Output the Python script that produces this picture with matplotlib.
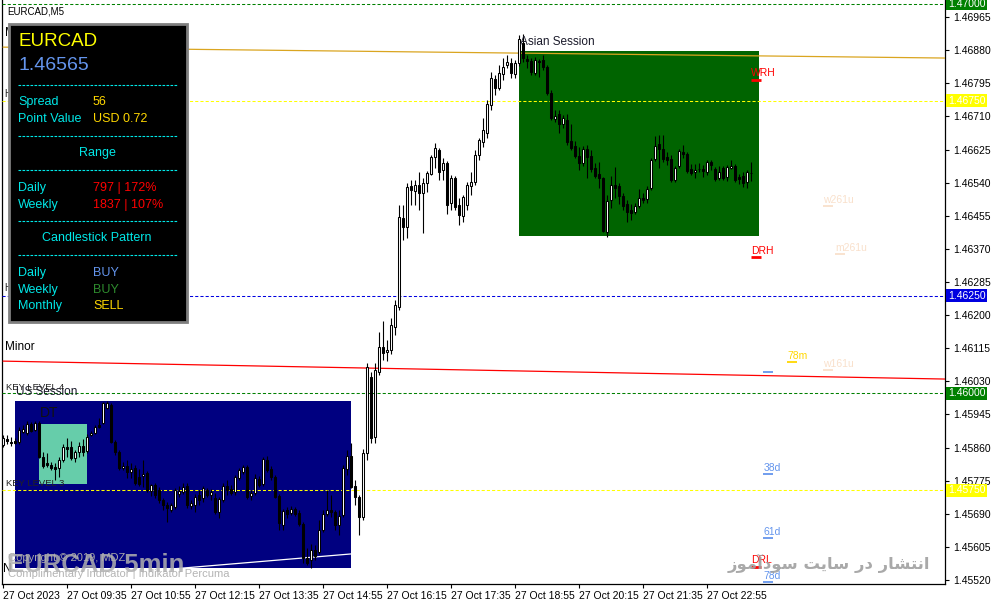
import numpy as np
import matplotlib
matplotlib.use("Agg")
import matplotlib.pyplot as plt
from matplotlib.patches import Rectangle

plt.rcParams['font.family'] = ['Liberation Sans', 'DejaVu Sans']

# EURCAD M5 candles, prices in points (1 point = 0.00001)
opens_pts = [
    145867, 145882, 145875, 145877, 145875, 145900, 145897, 145921, 145905, 145923,
    145836, 145820, 145815, 145810, 145807, 145828, 145862, 145862, 145833, 145849,
    145865, 145851, 145892, 145897, 145918, 145923, 145961, 145969, 145875, 145849,
    145807, 145813, 145798, 145807, 145785, 145787, 145795, 145749, 145764, 145751,
    145726, 145713, 145700, 145708, 145741, 145746, 145762, 145710, 145713, 145738,
    145731, 145751, 145738, 145731, 145695, 145726, 145762, 145754, 145746, 145782,
    145798, 145810, 145736, 145743, 145779, 145767, 145828, 145805, 145785, 145736,
    145662, 145700, 145692, 145703, 145692, 145664, 145577, 145571, 145597, 145592,
    145649, 145690, 145700, 145695, 145662, 145687, 145805, 145839, 145762, 145733,
    145682, 145846, 146041, 145887, 146054, 146118, 146106, 146111, 146170, 146221,
    146449, 146426, 146532, 146519, 146534, 146514, 146539, 146562, 146606, 146624,
    146573, 146591, 146488, 146552, 146483, 146455, 146483, 146532, 146542, 146611,
    146645, 146668, 146739, 146806, 146783, 146819, 146842, 146847, 146819, 146847,
    146899, 146858, 146852, 146822, 146852, 146855, 146837, 146770, 146704, 146716,
    146691, 146701, 146647, 146634, 146608, 146590, 146626, 146608, 146578, 146562,
    146552, 146413, 146496, 146534, 146532, 146506, 146485, 146470, 146465, 146480,
    146501, 146498, 146526, 146601, 146639, 146626, 146606, 146601, 146547, 146583,
    146619, 146614, 146575, 146568, 146575, 146575, 146568, 146593, 146575, 146552,
    146578, 146555, 146578, 146583, 146555, 146557, 146542, 146565,
]
highs_pts = [
    145892, 145892, 145887, 145884, 145913, 145918, 145928, 145926, 145928, 145928,
    145849, 145846, 145823, 145820, 145836, 145870, 145884, 145877, 145854, 145875,
    145882, 145895, 145903, 145918, 145936, 145977, 145979, 145974, 145880, 145854,
    145823, 145828, 145820, 145815, 145805, 145828, 145800, 145767, 145769, 145759,
    145731, 145721, 145718, 145756, 145761, 145769, 145769, 145726, 145741, 145751,
    145762, 145756, 145754, 145743, 145733, 145769, 145777, 145764, 145790, 145807,
    145815, 145815, 145751, 145792, 145787, 145836, 145839, 145813, 145790, 145741,
    145703, 145708, 145710, 145708, 145700, 145669, 145602, 145613, 145610, 145674,
    145700, 145751, 145738, 145700, 145700, 145815, 145854, 145872, 145777, 145738,
    145857, 146077, 146054, 146077, 146157, 146185, 146136, 146193, 146239, 146483,
    146483, 146539, 146547, 146547, 146568, 146552, 146570, 146611, 146642, 146629,
    146603, 146596, 146560, 146557, 146501, 146508, 146542, 146568, 146624, 146655,
    146706, 146752, 146824, 146816, 146842, 146860, 146868, 146860, 146855, 146919,
    146922, 146868, 146860, 146863, 146858, 146868, 146842, 146778, 146727, 146727,
    146714, 146716, 146691, 146647, 146632, 146634, 146637, 146624, 146591, 146593,
    146555, 146508, 146557, 146580, 146539, 146514, 146496, 146485, 146488, 146524,
    146514, 146532, 146603, 146660, 146662, 146662, 146619, 146611, 146583, 146626,
    146637, 146619, 146588, 146588, 146590, 146585, 146598, 146598, 146580, 146583,
    146583, 146585, 146598, 146588, 146562, 146568, 146573, 146593,
]
lows_pts = [
    145862, 145870, 145865, 145870, 145870, 145897, 145892, 145900, 145903, 145833,
    145807, 145810, 145803, 145777, 145785, 145823, 145836, 145828, 145823, 145836,
    145839, 145846, 145890, 145895, 145910, 145921, 145959, 145872, 145841, 145803,
    145803, 145782, 145782, 145764, 145762, 145759, 145746, 145736, 145731, 145718,
    145700, 145669, 145695, 145703, 145733, 145741, 145705, 145703, 145695, 145713,
    145721, 145733, 145726, 145690, 145680, 145721, 145738, 145738, 145738, 145777,
    145792, 145728, 145726, 145738, 145759, 145762, 145798, 145777, 145731, 145649,
    145649, 145680, 145687, 145685, 145659, 145564, 145559, 145551, 145571, 145587,
    145644, 145685, 145682, 145649, 145636, 145682, 145790, 145756, 145713, 145636,
    145674, 145828, 145872, 145872, 146046, 146085, 146082, 146100, 146149, 146213,
    146393, 146398, 146483, 146483, 146470, 146411, 146516, 146560, 146578, 146547,
    146547, 146460, 146470, 146470, 146431, 146439, 146470, 146508, 146534, 146598,
    146632, 146655, 146727, 146765, 146778, 146804, 146834, 146809, 146809, 146839,
    146850, 146834, 146816, 146816, 146811, 146829, 146765, 146701, 146696, 146668,
    146680, 146637, 146624, 146603, 146573, 146583, 146552, 146567, 146552, 146526,
    146413, 146401, 146475, 146501, 146485, 146470, 146439, 146444, 146460, 146475,
    146488, 146488, 146521, 146596, 146578, 146593, 146585, 146542, 146542, 146578,
    146603, 146565, 146560, 146552, 146568, 146555, 146560, 146573, 146544, 146547,
    146547, 146544, 146575, 146542, 146537, 146529, 146526, 146544,
]
closes_pts = [
    145884, 145877, 145872, 145872, 145905, 145908, 145921, 145903, 145923, 145836,
    145813, 145815, 145807, 145805, 145828, 145862, 145857, 145833, 145849, 145865,
    145849, 145887, 145897, 145913, 145913, 145974, 145974, 145875, 145849, 145807,
    145813, 145798, 145805, 145769, 145767, 145792, 145751, 145764, 145738, 145726,
    145713, 145705, 145713, 145751, 145749, 145759, 145713, 145718, 145733, 145726,
    145756, 145738, 145746, 145695, 145728, 145762, 145751, 145743, 145785, 145803,
    145810, 145733, 145743, 145782, 145764, 145831, 145803, 145785, 145733, 145667,
    145697, 145690, 145703, 145690, 145664, 145577, 145564, 145597, 145582, 145649,
    145690, 145700, 145695, 145662, 145685, 145807, 145839, 145759, 145733, 145682,
    145846, 146067, 145884, 146059, 146118, 146103, 146111, 146175, 146226, 146452,
    146426, 146529, 146521, 146534, 146514, 146539, 146565, 146606, 146629, 146568,
    146591, 146483, 146552, 146478, 146457, 146503, 146534, 146542, 146611, 146650,
    146675, 146742, 146809, 146783, 146822, 146837, 146850, 146822, 146847, 146909,
    146860, 146852, 146824, 146855, 146850, 146837, 146770, 146706, 146711, 146691,
    146706, 146645, 146629, 146608, 146590, 146626, 146606, 146575, 146557, 146552,
    146416, 146493, 146534, 146526, 146506, 146480, 146465, 146462, 146480, 146501,
    146496, 146524, 146598, 146634, 146626, 146601, 146598, 146547, 146578, 146621,
    146614, 146570, 146565, 146573, 146575, 146570, 146593, 146585, 146550, 146568,
    146552, 146580, 146583, 146547, 146550, 146539, 146568, 146565,
]

time_label_bars = [0, 16, 32, 48, 64, 80, 96, 112, 128, 144, 160, 176]
time_labels = ['27 Oct 2023', '27 Oct 09:35', '27 Oct 10:55', '27 Oct 12:15',
               '27 Oct 13:35', '27 Oct 14:55', '27 Oct 16:15', '27 Oct 17:35',
               '27 Oct 18:55', '27 Oct 20:15', '27 Oct 21:35', '27 Oct 22:55']
price_ticks = [1.46965, 1.46880, 1.46795, 1.46710, 1.46625, 1.46540, 1.46455,
               1.46370, 1.46285, 1.46200, 1.46115, 1.46030, 1.45945, 1.45860,
               1.45775, 1.45690, 1.45605, 1.45520]

# horizontal key levels (dashed) with their colours
key_levels = [1.47000, 1.46750, 1.46250, 1.46000, 1.45750]
key_colors = ['#008000', '#FFFF00', '#0000E0', '#008000', '#FFFF00']

# sessions / zones: start bar, end bar, high, low
us_session = (2.9, 86.9, 1.45980, 1.45551)
asia_session = (128.9, 188.9, 1.46878, 1.46403)
dt_zone = (8.9, 20.9, 1.45921, 1.45767)

# trend lines: bar0, price0, bar1, price1
major_line = (0, 1.46888, 235.4, 1.46860)
minor_line = (0, 1.46082, 235.4, 1.46036)
session_line = (30, 1.45538, 86.9, 1.45587)

# level tags on the right
tag_names = ['WRH', 'DRH', 'w261u', 'm261u', '78m', 'w161u', '', '38d', '61d', 'DRL', '78d']
tag_bars = [187, 187, 205, 208, 196, 205, 190, 190, 190, 187, 190]
tag_prices = [1.46804, 1.46349, 1.46480, 1.46357, 1.46080, 1.46059, 1.46054,
              1.45792, 1.45628, 1.45554, 1.45515]
tag_colors = ['#FF0000', '#FF0000', '#F9E0CB', '#F9E0CB', '#FFD700', '#F9E0CB',
              '#6495ED', '#6495ED', '#6495ED', '#FF0000', '#6495ED']

opens = np.array(opens_pts) / 1e5
closes = np.array(closes_pts) / 1e5
highs = np.maximum.reduce([np.array(highs_pts) / 1e5, opens, closes])
lows = np.minimum.reduce([np.array(lows_pts) / 1e5, opens, closes])
bars = np.arange(len(closes))

fig = plt.figure(figsize=(9.91, 6.05), dpi=100)
fig.patch.set_facecolor('white')
ax = fig.add_axes([2 / 991, 21 / 605, 943 / 991, 584 / 605])
ax.set_xlim(-0.325, 235.425)
ax.set_ylim(1.455099, 1.470090)
ax.set_facecolor('white')

# session boxes
for (b0, b1, hi, lo), col in [(us_session, '#000080'), (asia_session, '#006400'),
                              (dt_zone, '#66CDAA')]:
    ax.add_patch(Rectangle((b0, lo), b1 - b0, hi - lo, facecolor=col,
                           edgecolor='none', zorder=1))

ax.annotate('US Session', (us_session[0] + 0.3, us_session[2]),
            xytext=(0, 2), textcoords='offset points', fontsize=8.5,
            color='#1a1a2a', va='bottom', ha='left', zorder=6)
ax.annotate('Asian Session', (asia_session[0] + 0.3, asia_session[2]),
            xytext=(0, 2.5), textcoords='offset points', fontsize=8.5,
            color='#1a1a2a', va='bottom', ha='left', zorder=6)
ax.annotate('DT', (dt_zone[0] + 0.3, dt_zone[2]), xytext=(0, 3),
            textcoords='offset points', fontsize=10, color='#111111',
            va='bottom', ha='left', zorder=6)

# key levels
for lvl, col in zip(key_levels, key_colors):
    ax.axhline(lvl, color=col, lw=0.75, dashes=(3, 2), zorder=3)
    ax.text(1.0032, lvl, f'{lvl:.5f}', transform=ax.get_yaxis_transform(),
            fontsize=7.5, color='white', va='center', ha='left', clip_on=False,
            bbox=dict(boxstyle='square,pad=0.15', fc=col, ec='none'))

ax.annotate('KEY LEVEL 4', (0.6, key_levels[3]), xytext=(0, 1),
            textcoords='offset points', fontsize=6.8, color='#222222',
            va='bottom', ha='left', zorder=6)
ax.annotate('KEY LEVEL 3', (0.6, key_levels[4]), xytext=(0, 1.5),
            textcoords='offset points', fontsize=6.8, color='#222222',
            va='bottom', ha='left', zorder=6)
ax.annotate('H', (0.3, key_levels[1]), xytext=(0, 1.5), textcoords='offset points',
            fontsize=7, color='#222222', va='bottom', ha='left', zorder=6)
ax.annotate('H', (0.3, key_levels[2]), xytext=(0, 2), textcoords='offset points',
            fontsize=7, color='#222222', va='bottom', ha='left', zorder=6)

# trend lines
ax.plot([major_line[0], major_line[2]], [major_line[1], major_line[3]],
        color='#DAA520', lw=0.9, zorder=3)
ax.plot([minor_line[0], minor_line[2]], [minor_line[1], minor_line[3]],
        color='#FF0000', lw=0.9, zorder=3)
ax.plot([session_line[0], session_line[2]], [session_line[1], session_line[3]],
        color='white', lw=0.9, zorder=3)
ax.annotate('Minor', (0.3, minor_line[1]), xytext=(0, 6), textcoords='offset points',
            fontsize=8.5, color='black', va='bottom', ha='left', zorder=6)
ax.annotate('M', (0.3, major_line[1]), xytext=(0, 6), textcoords='offset points',
            fontsize=8.5, color='black', va='bottom', ha='left', zorder=6)

# candles
up = closes >= opens
ax.vlines(bars, lows, highs, color='black', lw=0.8, zorder=4)
ax.bar(bars, np.maximum(np.abs(closes - opens), 0.000012),
       bottom=np.minimum(opens, closes), width=0.5,
       color=np.where(up, 'white', 'black'), edgecolor='black',
       linewidth=0.75, zorder=5)

# right-side tags
for name, b, p, col in zip(tag_names, tag_bars, tag_prices, tag_colors):
    lw = 2 if col == '#FF0000' else 1.3
    ax.plot([b, b + 2.3], [p, p], color=col, lw=lw, solid_capstyle='butt', zorder=6)
    if name:
        ax.annotate(name, (b, p), xytext=(0, 1), textcoords='offset points',
                    fontsize=7.5, color=col, va='bottom', ha='left', zorder=6)

# axes styling
ax.yaxis.tick_right()
ax.set_yticks(price_ticks)
ax.set_yticklabels([f'{t:.5f}' for t in price_ticks])
ax.set_xticks(time_label_bars)
ax.set_xticklabels(time_labels, ha='left')
ax.tick_params(axis='y', direction='out', length=3, width=0.8, pad=3,
               labelsize=7.5, colors='black')
ax.tick_params(axis='x', direction='out', length=3, width=0.8, pad=2,
               labelsize=7.5, colors='black')
for side in ['left', 'bottom', 'right']:
    ax.spines[side].set_linewidth(0.9)
    ax.spines[side].set_color('black')
ax.spines['top'].set_visible(False)

# overlay in pixel coordinates for the info panel and watermarks
ov = fig.add_axes([0, 0, 1, 1], zorder=10)
ov.set_xlim(0, 991)
ov.set_ylim(605, 0)
ov.axis('off')

ov.text(7, 11, 'EURCAD,M5', fontsize=7, color='black', va='center', ha='left')

ov.add_patch(Rectangle((9, 24), 178, 298, facecolor='black', edgecolor='#7F7F7F', lw=2))
cyan = '#00E8E8'
gold = '#FFD700'
ov.text(18, 41, 'EURCAD', fontsize=13.5, color='#FFFF00', va='center', ha='left')
ov.text(18, 66, '1.46565', fontsize=14, color='#6495ED', va='center', ha='left')
for yy in [85, 136, 170, 221, 255]:
    ov.plot([18, 178], [yy, yy], color=cyan, lw=0.8, dashes=(2.4, 1.2))

rows = [
    (102, 'Spread', '56', gold),
    (119, 'Point Value', 'USD 0.72', gold),
    (188, 'Daily', '797 | 172%', '#FF0000'),
    (205, 'Weekly', '1837 | 107%', '#FF0000'),
    (273, 'Daily', 'BUY', '#6495ED'),
    (290, 'Weekly', 'BUY', '#2E8B2E'),
    (306, 'Monthly', 'SELL', gold),
]
for yy, lab, val, vcol in rows:
    ov.text(18, yy, lab, fontsize=9, color=cyan, va='center', ha='left')
    ov.text(93, yy, val, fontsize=9, color=vcol, va='center', ha='left')
ov.text(97, 153, 'Range', fontsize=9, color=cyan, va='center', ha='center')
ov.text(97, 238, 'Candlestick Pattern', fontsize=9, color=cyan, va='center', ha='center')

# watermarks
ov.text(3, 572, 'N', fontsize=8.5, color='black', va='baseline', ha='left')
ov.text(8, 558, 'Copyright \u00a9 2019, MDZ', fontsize=8, color='#A8A8A8',
        va='center', ha='left')
ov.text(8, 574, 'Complimentary Indicator | Indikator Percuma', fontsize=8,
        color='#B4B4B4', va='center', ha='left')
ov.text(7, 565, 'EURCAD 5min', fontsize=18.5, fontweight='bold',
        color='#B0B0B0', alpha=0.85, va='center', ha='left')

AR_FORMS = {
    '\u0627': ('\uFE8D', '\uFE8E', None, None),
    '\u0622': ('\uFE81', '\uFE82', None, None),
    '\u062F': ('\uFEA9', '\uFEAA', None, None),
    '\u0631': ('\uFEAD', '\uFEAE', None, None),
    '\u0632': ('\uFEAF', '\uFEB0', None, None),
    '\u0648': ('\uFEED', '\uFEEE', None, None),
    '\u0646': ('\uFEE5', '\uFEE6', '\uFEE7', '\uFEE8'),
    '\u062A': ('\uFE95', '\uFE96', '\uFE97', '\uFE98'),
    '\u0634': ('\uFEB5', '\uFEB6', '\uFEB7', '\uFEB8'),
    '\u0633': ('\uFEB1', '\uFEB2', '\uFEB3', '\uFEB4'),
    '\u0645': ('\uFEE1', '\uFEE2', '\uFEE3', '\uFEE4'),
    '\u06CC': ('\uFEEF', '\uFEF0', '\uFEF3', '\uFEF4'),
}


def shape_rtl(s):
    out = []
    for k, ch in enumerate(s):
        if ch not in AR_FORMS:
            out.append(ch)
            continue
        prev = s[k - 1] if k > 0 else ''
        nxt = s[k + 1] if k + 1 < len(s) else ''
        f = AR_FORMS[ch]
        join_prev = prev in AR_FORMS and AR_FORMS[prev][2] is not None
        join_next = nxt in AR_FORMS and f[2] is not None
        if join_prev and join_next:
            out.append(f[3])
        elif join_prev:
            out.append(f[1])
        elif join_next:
            out.append(f[2])
        else:
            out.append(f[0])
    return ''.join(reversed(out))


ov.text(930, 563, shape_rtl('انتشار در سایت سودآموز'), fontsize=11.8,
        fontweight='bold', family=['DejaVu Sans'], color='#A0A0A0', alpha=0.9,
        va='center', ha='right')

fig.savefig('out.png', dpi=100, facecolor='white')
